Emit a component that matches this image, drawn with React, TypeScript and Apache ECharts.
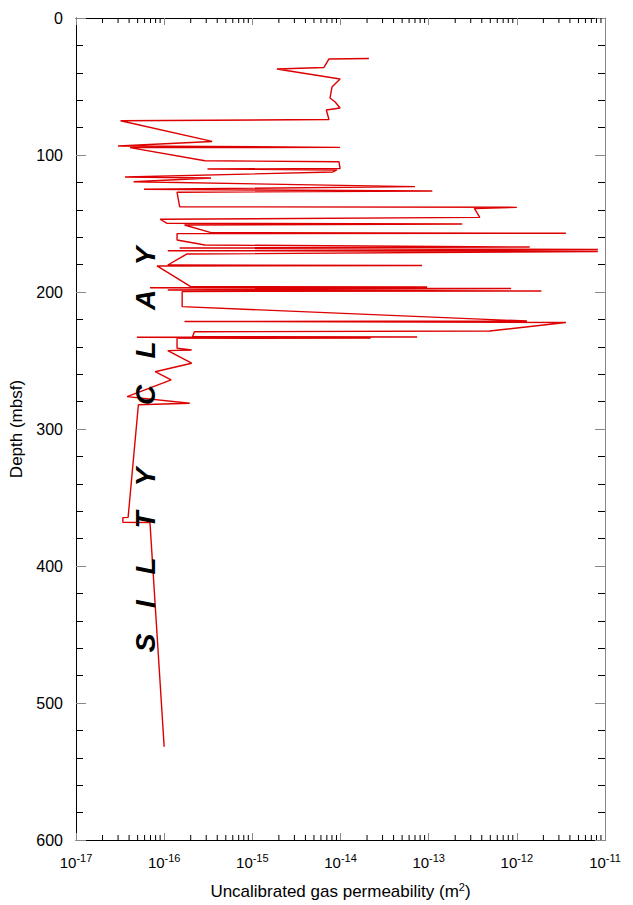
import React, { useEffect, useRef } from 'react';
import * as echarts from 'echarts';

// Depth (mbsf) of each measurement, in the order the trace is drawn
const depths = [
  29.6, 29.9, 36.1, 37.2, 44.5, 50.4, 58.4, 61.3, 65.7, 67.2,
  74.1, 75.0, 90.1, 93.4, 94.4, 94.6, 104.2, 104.9, 109.9, 110.2,
  110.9, 112.4, 116.1, 116.8, 119.5, 123.1, 125.0, 126.3, 127.2, 137.8,
  138.2, 139.0, 145.5, 146.9, 149.9, 150.4, 151.1, 156.7, 157.1, 157.4,
  162.0, 165.7, 167.2, 167.9, 169.0, 169.9, 170.4, 172.3, 180.3, 180.7,
  181.0, 196.1, 196.4, 196.9, 197.4, 198.5, 199.3, 199.6, 210.7, 221.2,
  221.5, 222.3, 228.5, 229.0, 232.6, 232.8, 233.0, 233.6, 233.8, 241.1,
  242.3, 242.8, 252.0, 258.2, 264.2, 276.4, 281.2, 282.3, 364.5, 364.7,
  368.1, 368.3, 531.9,
];

// Uncalibrated gas permeability (m^2)
const permeability = [
  2.1e-14, 7.4e-15, 6.5e-15, 1.9e-15, 9.9e-15, 8.0e-15, 7.6e-15, 8.7e-15, 9.9e-15, 6.9e-15,
  7.4e-15, 3.2e-17, 3.5e-16, 3.0e-17, 9.9e-15, 4.1e-17, 2.9e-16, 9.6e-15, 9.9e-15, 3.1e-16,
  9.1e-15, 8.2e-15, 3.6e-17, 3.4e-16, 4.5e-17, 7.0e-14, 5.9e-17, 1.1e-13, 1.4e-16, 1.5e-16,
  1.0e-12, 3.3e-13, 3.8e-13, 9.0e-17, 1.08e-16, 2.4e-13, 1.7e-16, 3.4e-16, 3.6e-12, 1.4e-16,
  1.4e-16, 2.9e-16, 1.4e-12, 1.5e-16, 8.3e-12, 1.1e-16, 8.3e-12, 1.8e-16, 1.1e-16, 8.4e-14,
  8.3e-17, 2.0e-16, 9.6e-14, 6.9e-17, 8.6e-13, 1.1e-16, 1.9e-12, 1.6e-16, 1.6e-16, 1.3e-12,
  1.7e-16, 3.6e-12, 4.9e-13, 2.2e-16, 2.1e-16, 7.4e-14, 4.9e-17, 2.2e-14, 1.4e-16, 1.4e-16,
  2.05e-16, 1.1e-16, 2.05e-16, 7.9e-17, 1.2e-16, 3.8e-17, 1.95e-16, 5.1e-17, 3.9e-17, 3.4e-17,
  3.4e-17, 6.9e-17, 1.0e-16,
];

// Minor log ticks (2..9 × each decade)
const decades = [-17, -16, -15, -14, -13, -12];
const minorMultipliers = [2, 3, 4, 5, 6, 7, 8, 9];
const xMinorTicks: number[] = [];
decades.forEach((e) => minorMultipliers.forEach((m) => xMinorTicks.push(m * Math.pow(10, e))));

const lithologyLetters = ['S', 'I', 'L', 'T', 'Y', 'C', 'L', 'A', 'Y'];
const letterDepthPx = [643, 604, 566, 520, 477, 395, 350, 300, 256];

const FONT = '"Liberation Sans", Arial, Helvetica, sans-serif';

export default function App() {
  const ref = useRef<HTMLDivElement>(null);
  useEffect(() => {
    if (!ref.current) return;
    const chart = echarts.init(ref.current, null, { renderer: 'svg' });
    const lineData = depths.map((d, i) => [permeability[i], d]);

    const xLabel = {
      color: '#000',
      fontFamily: FONT,
      margin: 12,
      formatter: (v: number) => {
        const e = Math.round(Math.log10(v));
        return `{b|10}{s|${e}}`;
      },
      rich: {
        b: { fontSize: 15, fontFamily: FONT, color: '#000' },
        s: { fontSize: 11, fontFamily: FONT, color: '#000', padding: [0, 0, 9, 0] },
      },
    };

    chart.setOption({
      animation: false,
      backgroundColor: '#fff',
      grid: { left: 70, top: 18, right: 28, bottom: 65, containLabel: false },
      xAxis: [
        {
          type: 'log',
          logBase: 10,
          min: 1e-17,
          max: 1e-11,
          splitNumber: 6,
          position: 'bottom',
          name: '{a|Uncalibrated gas permeability (m}{s|2}{a|)}',
          nameLocation: 'middle',
          nameGap: 41,
          nameTextStyle: {
            rich: {
              a: { fontSize: 17, fontFamily: FONT, color: '#000' },
              s: { fontSize: 11, fontFamily: FONT, color: '#000', padding: [0, 0, 10, 0] },
            },
          },
          axisLine: { show: true, onZero: false, lineStyle: { color: '#000', width: 1 } },
          axisTick: { show: true, inside: true, length: 7, lineStyle: { color: '#888' } },
          axisLabel: xLabel,
          splitLine: { show: false },
          minorTick: { show: false },
        },
        {
          type: 'log',
          logBase: 10,
          min: 1e-17,
          max: 1e-11,
          splitNumber: 6,
          position: 'top',
          axisLine: { show: true, onZero: false, lineStyle: { color: '#000', width: 1 } },
          axisTick: { show: true, inside: true, length: 7, lineStyle: { color: '#888' } },
          axisLabel: { show: false },
          splitLine: { show: false },
        },
      ],
      yAxis: [
        {
          type: 'value',
          inverse: true,
          min: 0,
          max: 600,
          interval: 100,
          position: 'left',
          name: 'Depth (mbsf)',
          nameLocation: 'middle',
          nameGap: 51,
          nameTextStyle: { fontSize: 17, fontFamily: FONT, color: '#000' },
          axisLine: { show: true, onZero: false, lineStyle: { color: '#000', width: 1 } },
          axisTick: { show: true, inside: true, length: 10, lineStyle: { color: '#888' } },
          minorTick: { show: true, splitNumber: 5, length: 7, lineStyle: { color: '#000' } },
          axisLabel: { fontSize: 16, fontFamily: FONT, color: '#000', margin: 13 },
          splitLine: { show: false },
        },
        {
          type: 'value',
          inverse: true,
          min: 0,
          max: 600,
          interval: 100,
          position: 'right',
          axisLine: { show: true, onZero: false, lineStyle: { color: '#888', width: 1 } },
          axisTick: { show: true, inside: true, length: 10, lineStyle: { color: '#888' } },
          minorTick: { show: true, splitNumber: 5, length: 7, lineStyle: { color: '#000' } },
          axisLabel: { show: false },
          splitLine: { show: false },
        },
      ],
      series: [
        {
          type: 'custom',
          xAxisIndex: 0,
          yAxisIndex: 0,
          silent: true,
          clip: false,
          data: xMinorTicks.map((v) => [v, 0]),
          renderItem: (params: any, api: any) => {
            const x = api.coord([api.value(0), 0])[0];
            const cs = params.coordSys;
            const bottom = cs.y + cs.height;
            return {
              type: 'group',
              children: [
                { type: 'line', shape: { x1: x, y1: bottom, x2: x, y2: bottom - 5 }, style: { stroke: '#000', lineWidth: 1 } },
                { type: 'line', shape: { x1: x, y1: cs.y, x2: x, y2: cs.y + 5 }, style: { stroke: '#000', lineWidth: 1 } },
              ],
            };
          },
        },
        {
          type: 'line',
          xAxisIndex: 0,
          yAxisIndex: 0,
          data: lineData,
          showSymbol: false,
          symbol: 'none',
          lineStyle: { color: '#dd0000', width: 1.4 },
          silent: true,
        },
      ],
      graphic: lithologyLetters.map((ch, i) => ({
        type: 'text',
        x: 145,
        y: letterDepthPx[i],
        rotation: Math.PI / 2,
        style: {
          text: ch,
          fontSize: 28,
          fontWeight: 'bold',
          fontStyle: 'italic',
          fontFamily: FONT,
          fill: '#000',
          align: 'center',
          verticalAlign: 'middle',
        },
        z: 10,
      })),
    });
    return () => chart.dispose();
  }, []);
  return (
    <div
      ref={ref}
      style={{ position: 'absolute', left: 0, top: 0, width: 633, height: 905, background: '#fff' }}
    />
  );
}
